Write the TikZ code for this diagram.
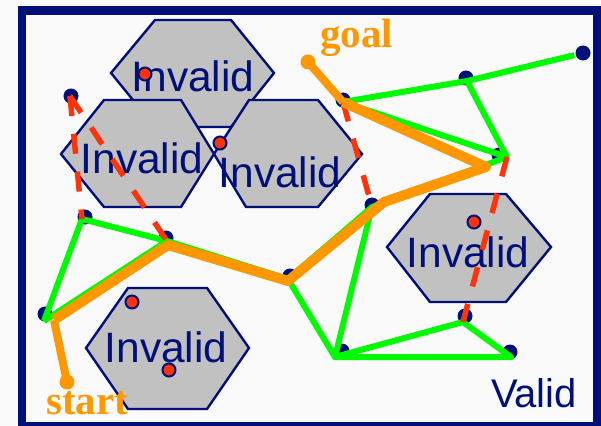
\documentclass[tikz,border=0pt]{standalone}
\usepackage{fontspec}
\setmainfont{Liberation Serif}
\setsansfont{Liberation Sans}
\definecolor{navy}{RGB}{0,16,120}
\definecolor{hexgray}{RGB}{192,193,192}
\definecolor{roadgreen}{RGB}{0,250,0}
\definecolor{cutred}{RGB}{255,51,10}
\definecolor{pathorange}{RGB}{255,152,0}
\definecolor{paper}{RGB}{250,250,250}
\begin{document}
\begin{tikzpicture}[x=1pt,y=-1pt,
  hexcell/.style={fill=hexgray, draw=navy, line width=2.4pt, line join=miter},
  hexlabel/.style={font=\sffamily\fontsize{42.5}{42.5}\selectfont, text=navy, anchor=base, inner sep=0pt},
  tag/.style={font=\rmfamily\bfseries\fontsize{41}{41}\selectfont, text=pathorange, anchor=base west, inner sep=0pt},
  road/.style={draw=roadgreen, line width=6pt, line join=round},
  blocked/.style={draw=cutred, line width=5.5pt, dash pattern=on 20pt off 18pt},
  pathline/.style={draw=pathorange, line width=10pt, line join=round},
  pathtail/.style={draw=pathorange, line width=8pt},
  vtx/.style={circle, fill=navy, inner sep=0pt, minimum size=15pt},
  probe/.style={circle, fill=cutred, draw=navy, line width=2pt, inner sep=0pt, minimum size=13pt},
  endpt/.style={circle, fill=pathorange, inner sep=0pt, minimum size=15pt},
]
\useasboundingbox (0,0) rectangle (601,425);
\clip (0,0) rectangle (601,425);
\fill[gray!4] (0,0) rectangle (601,425);

% workspace frame
\filldraw[fill=paper, draw=navy, line width=8.5pt] (22,10.5) rectangle (597,426.5);

% obstacles
\draw[hexcell] (111,73) -- (155,20) -- (231,20) -- (274,73) -- (231,127) -- (155,127) -- cycle;
\draw[hexcell] (214,154) -- (249,100) -- (318,100) -- (362,154) -- (318,207) -- (246,207) -- cycle;
\draw[hexcell] (61,154) -- (104,100) -- (181,100) -- (214,154) -- (181,207) -- (104,207) -- cycle;
\draw[hexcell] (387,247) -- (430,194) -- (506,194) -- (551,247) -- (506,302) -- (430,302) -- cycle;
\draw[hexcell] (86,348) -- (128,288) -- (207,288) -- (249,348) -- (207,409) -- (128,409) -- cycle;

\node[hexlabel] (inv1) at (193,92) {Invalid};
\node[hexlabel] (inv2) at (142,173) {Invalid};
\node[hexlabel] (inv3) at (280,187) {Invalid};
\node[hexlabel] (inv4) at (468,267) {Invalid};
\node[hexlabel] (inv5) at (166,362) {Invalid};
\node[hexlabel, font=\sffamily\fontsize{40}{40}\selectfont] (free) at (534,407) {Valid};

% rejected samples
\node[probe] (s1) at (145,74) {};
\node[probe] (s2) at (220,143) {};
\node[probe] (s3) at (474,222) {};
\node[probe] (s4) at (132,302) {};
\node[probe] (s5) at (169,370) {};

% roadmap vertices
\coordinate (a) at (70,96);
\coordinate (b) at (82,219);
\coordinate (c) at (167,241);
\coordinate (d) at (44,321);
\coordinate (e) at (288,279);
\coordinate (f) at (343,102);
\coordinate (g) at (467,81);
\coordinate (h) at (583,53);
\coordinate (i) at (507,157);
\coordinate (j) at (372,207);
\coordinate (k) at (335,357);
\coordinate (l) at (463,322);
\coordinate (m) at (511,357);

\node[vtx] (dA) at (71,96) {};
\node[vtx] (dB) at (85,217) {};
\node[vtx] (dC) at (166,238) {};
\node[vtx] (dD) at (45,314) {};
\node[vtx] (dE) at (290,276) {};
\node[vtx] (dF) at (343,100) {};
\node[vtx] (dG) at (466,78) {};
\node[vtx] (dH) at (583,53) {};
\node[vtx] (dI) at (499,155) {};
\node[vtx] (dJ) at (372,205) {};
\node[vtx] (dK) at (342,351) {};
\node[vtx] (dL) at (465,316) {};
\node[vtx] (dM) at (510,352) {};

% collision-free edges
\draw[road] (d) -- (b) -- (c);
\draw[road] (d) -- (c) -- (e) -- (j) -- (i);
\draw[road] (f) -- (i) -- (g);
\draw[road, shorten >=9pt] (f) -- (g) -- (h);
\draw[road] (e) -- (k) -- (j);
\draw[road] (k) -- (m) -- (l) -- cycle;

% edges that hit an obstacle
\draw[blocked] (a) -- (b);
\draw[blocked] (a) -- (c);
\draw[blocked] (f) -- (j);
\draw[blocked] (i) -- (l);

% query path
\coordinate (q1) at (54,320);
\coordinate (q2) at (168,245);
\coordinate (q3) at (288,281);
\coordinate (q4) at (384,202);
\coordinate (q5) at (486,167);
\node[endpt] (startpt) at (67,382) {};
\node[endpt] (goalpt) at (308,62) {};
\draw[pathtail] (startpt.center) -- (q1);
\draw[pathline] (q1) -- (q2) -- (q3) -- (q4) -- (q5) -- (f);
\draw[pathtail] (f) -- (goalpt.center);

\node[tag] (goal) at (320,48) {goal};
\node[tag] (start) at (46,414) {start};
\end{tikzpicture}
\end{document}
